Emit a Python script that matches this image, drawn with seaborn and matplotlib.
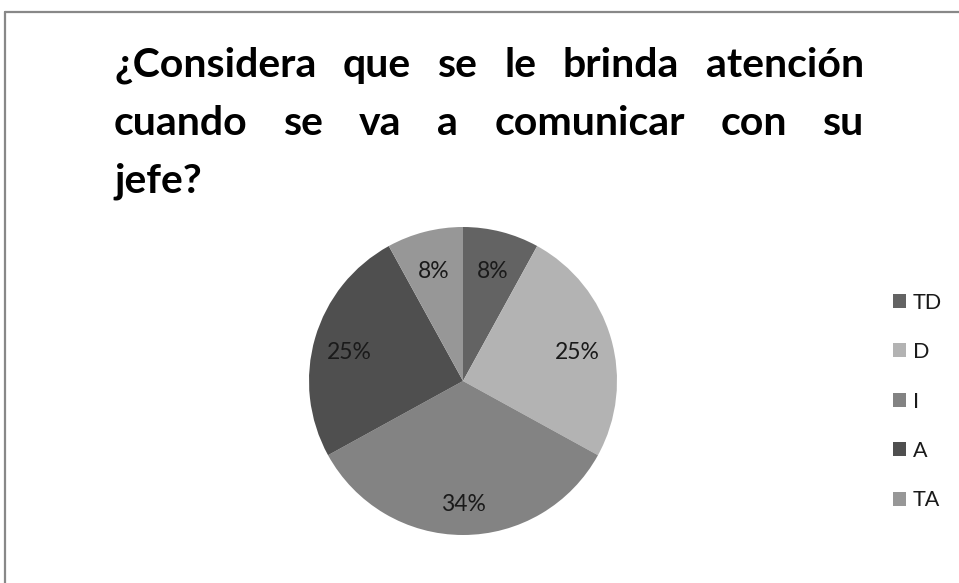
import matplotlib
matplotlib.use("Agg")
import matplotlib.pyplot as plt
import matplotlib.transforms as mtransforms
import seaborn as sns
from matplotlib.lines import Line2D

# ---- data ----
categories = ["TD", "D", "I", "A", "TA"]
values = [8, 25, 34, 25, 8]
colors = ["#636363", "#b3b3b3", "#838383", "#4f4f4f", "#979797"]
title_lines = [
    "¿Considera que se le brinda atención",
    "cuando se va a comunicar con su",
    "jefe?",
]

sns.set_theme(style="white")
plt.rcParams["font.family"] = ["Lato", "DejaVu Sans"]

W, H = 959, 583
fig = plt.figure(figsize=(W / 100, H / 100), dpi=100)
fig.patch.set_facecolor("white")

# pie axes
cx, cy, r = 463, 381, 154
ax = fig.add_axes([(cx - r) / W, (H - cy - r) / H, 2 * r / W, 2 * r / H])
wedges, texts, autotexts = ax.pie(
    values, colors=sns.color_palette(colors), startangle=90, counterclock=False,
    autopct="%1.0f%%", pctdistance=0.77, radius=1.0,
    wedgeprops=dict(linewidth=0), textprops=dict(fontsize=16.5, color="#1a1a1a"),
)
shift = mtransforms.ScaledTranslation(0, -5 / 100, fig.dpi_scale_trans)
for t in autotexts:
    t.set_transform(ax.transData + shift)
ax.set_xlim(-1, 1)
ax.set_ylim(-1, 1)
ax.set_aspect("equal")
ax.axis("off")

# legend
leg = fig.legend(
    wedges, categories, loc="center left",
    bbox_to_anchor=(893 / W, 1 - 401.5 / H), frameon=False,
    fontsize=15.5, handlelength=0.62, handleheight=0.62, handletextpad=0.3,
    labelspacing=1.37, borderaxespad=0, borderpad=0,
)
for t in leg.get_texts():
    t.set_color("#1a1a1a")

# justified title
renderer = fig.canvas.get_renderer()
left_px, right_px = 114, 864
baselines = [77, 135, 193]
tprops = dict(fontsize=29.5, fontweight="bold", color="black", va="baseline", ha="left")
for i, line in enumerate(title_lines):
    y = 1 - baselines[i] / H
    words = line.split(" ")
    if i == len(title_lines) - 1:
        fig.text(left_px / W, y, line, **tprops)
        continue
    objs = [fig.text(0, y, w, **tprops) for w in words]
    widths = [o.get_window_extent(renderer).width for o in objs]
    gap = (right_px - left_px - sum(widths)) / (len(words) - 1)
    x = left_px
    for o, w in zip(objs, widths):
        o.set_x(x / W)
        x += w + gap

# frame border (top and left)
fig.add_artist(Line2D([5 / W, 1.0], [1 - 12 / H, 1 - 12 / H], transform=fig.transFigure,
                      color="#888888", linewidth=1.6))
fig.add_artist(Line2D([5 / W, 5 / W], [0, 1 - 12 / H], transform=fig.transFigure,
                      color="#888888", linewidth=1.6))

fig.savefig("out.png", dpi=100, facecolor="white")
